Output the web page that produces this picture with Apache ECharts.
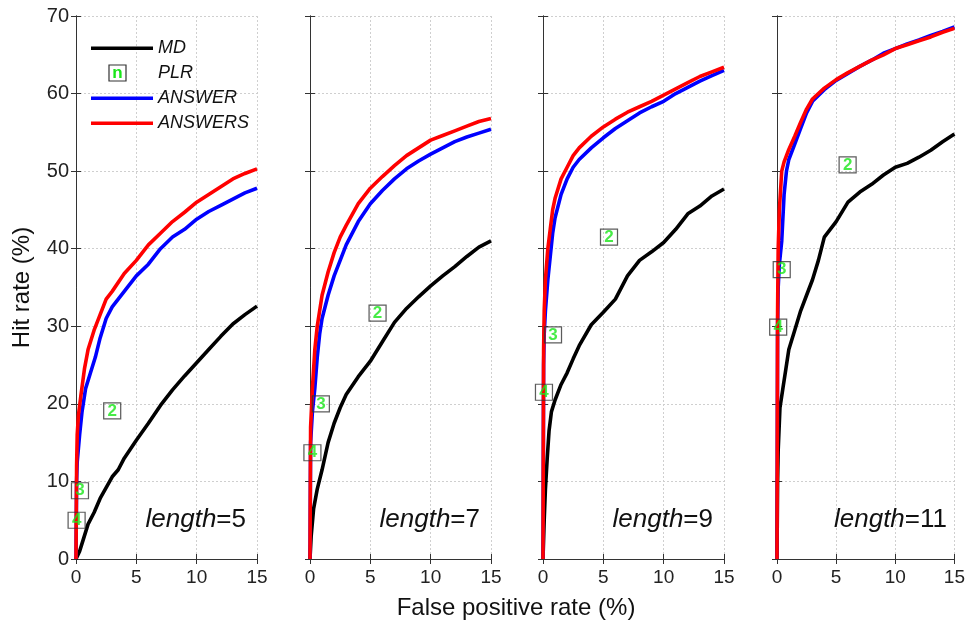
<!DOCTYPE html>
<html>
<head>
<meta charset="utf-8">
<script src="https://cdn.jsdelivr.net/npm/echarts@6/dist/echarts.min.js"></script>
<style>
html,body{margin:0;padding:0;background:#fff;}
#c{width:968px;height:628px;}
</style>
</head>
<body>
<div id="c"></div>
<script>
// ---- data ----
const lengths = [5, 7, 9, 11];
const xTicks = [0, 5, 10, 15];
const yTicks = [0, 10, 20, 30, 40, 50, 60, 70];
const legendNames = ['MD', 'PLR', 'ANSWER', 'ANSWERS'];
const xLabel = 'False positive rate (%)';
const yLabel = 'Hit rate (%)';

const md5 = [[0,0],[0.3,1],[0.6,2.5],[1,4.5],[1.5,6],[2,7.8],[2.5,9.2],[3,10.6],[3.5,11.5],[4,13],[5,15.3],[6,17.5],[7,19.8],[8,21.8],[9,23.6],[10,25.3],[11,27],[12,28.7],[13,30.3],[14,31.5],[15,32.6]];
const md7 = [[0,0],[0.1,3],[0.3,6.5],[0.6,9],[1,11.5],[1.5,15],[2,17.5],[2.5,19.5],[3,21.2],[4,23.5],[5,25.5],[6,28],[7,30.5],[8,32.3],[9,33.8],[10,35.2],[11,36.5],[12,37.7],[13,39],[14,40.2],[15,41]];
const md9 = [[0,0],[0.1,5],[0.2,9],[0.35,13],[0.5,16.5],[0.7,19],[1,20.5],[1.5,22.5],[2,24],[2.5,25.8],[3,27.5],[4,30.2],[5,31.8],[6,33.5],[7,36.5],[8,38.5],[9,39.6],[10,40.8],[11,42.5],[12,44.5],[13,45.5],[14,46.8],[15,47.7]];
const md11 = [[0,0],[0.05,10],[0.1,14],[0.25,19.5],[0.5,22],[0.75,24.5],[1,27],[1.5,29.5],[2,32],[2.5,34],[3,36],[3.5,38.5],[4,41.5],[4.5,42.5],[5,43.5],[6,46],[7,47.3],[8,48.3],[9,49.5],[10,50.5],[11,51],[12,51.8],[13,52.7],[14,53.8],[15,54.8]];

const answer5 = [[0,0],[0.05,10],[0.1,12.5],[0.3,16],[0.5,19],[0.8,22],[1.2,24],[1.6,26],[2,28.5],[2.5,31],[3,32.5],[4,34.5],[5,36.5],[6,38],[7,40],[8,41.5],[9,42.5],[10,43.8],[11,44.8],[12,45.6],[13,46.4],[14,47.2],[15,47.8]];
const answer7 = [[0,0],[0.05,15],[0.2,19],[0.4,22],[0.6,26],[0.8,29],[1,31],[1.5,34],[2,36.5],[2.5,38.5],[3,40.5],[4,43.5],[5,45.8],[6,47.5],[7,49],[8,50.3],[9,51.3],[10,52.2],[11,53],[12,53.8],[13,54.4],[14,54.9],[15,55.4]];
const answer9 = [[0,0],[0.05,25],[0.1,29],[0.2,32],[0.4,36],[0.6,39],[0.8,42],[1,44],[1.5,47],[2,49],[2.5,50.5],[3,51.5],[4,53],[5,54.3],[6,55.5],[7,56.5],[8,57.5],[9,58.3],[10,59],[11,60],[12,60.8],[13,61.6],[14,62.3],[15,63]];
const answer11 = [[0,0],[0.05,30],[0.1,35],[0.2,38],[0.4,41],[0.6,47],[0.8,50],[1,51.5],[1.5,53.5],[2,55.5],[2.5,57.5],[3,59],[4,60.5],[5,61.7],[6,62.6],[7,63.5],[8,64.3],[9,65.2],[10,65.8],[11,66.4],[12,66.9],[13,67.5],[14,68],[15,68.6]];

const answers5 = [[0,0],[0.05,12],[0.1,16],[0.2,18.5],[0.4,21],[0.7,24.5],[1,27],[1.5,29.5],[2,31.5],[2.5,33.5],[3,34.5],[4,36.8],[5,38.5],[6,40.5],[7,42],[8,43.5],[9,44.7],[10,46],[11,47],[12,48],[13,49],[14,49.7],[15,50.3]];
const answers7 = [[0,0],[0.05,17],[0.2,22],[0.4,27],[0.6,30],[0.8,32],[1,34],[1.5,37],[2,39.5],[2.5,41.5],[3,43],[4,45.8],[5,47.8],[6,49.3],[7,50.7],[8,52],[9,53],[10,54],[11,54.6],[12,55.2],[13,55.8],[14,56.4],[15,56.8]];
const answers9 = [[0,0],[0.05,27],[0.1,32],[0.2,36],[0.4,40],[0.6,42.5],[0.8,45],[1,46.5],[1.5,49],[2,50.5],[2.5,52],[3,53],[4,54.5],[5,55.7],[6,56.7],[7,57.6],[8,58.3],[9,59],[10,59.8],[11,60.6],[12,61.4],[13,62.2],[14,62.8],[15,63.4]];
const answers11 = [[0,0],[0.05,32],[0.1,40],[0.2,45],[0.4,50],[0.6,51.2],[0.8,52],[1,52.8],[1.5,54.5],[2,56.3],[2.5,58],[3,59.3],[4,60.7],[5,61.8],[6,62.7],[7,63.5],[8,64.3],[9,65],[10,65.8],[11,66.3],[12,66.8],[13,67.3],[14,67.9],[15,68.4]];

// PLR points: [fpr, hit, n]
const plr5 = [[3.0,19.1,2],[0.33,8.8,3],[0.05,5.0,4]];
const plr7 = [[5.6,31.7,2],[0.9,20.0,3],[0.2,13.7,4]];
const plr9 = [[5.47,41.5,2],[0.83,28.9,3],[0.08,21.5,4]];
const plr11 = [[5.97,50.8,2],[0.4,37.3,3],[0.1,29.9,4]];

const mdAll = [md5, md7, md9, md11];
const answerAll = [answer5, answer7, answer9, answer11];
const answersAll = [answers5, answers7, answers9, answers11];
const plrAll = [plr5, plr7, plr9, plr11];

// ---- layout ----
const FONT = 'Liberation Sans, Arial, sans-serif';
const GREEN = '#19e619';
const panelLeft = [76, 310, 543, 777];
const panelW = 181, panelTop = 16, panelH = 543;
const xMin = xTicks[0], xMax = xTicks[xTicks.length-1], xStep = xTicks[1]-xTicks[0];
const yMin = yTicks[0], yMax = yTicks[yTicks.length-1], yStep = yTicks[1]-yTicks[0];

const grids = [], xAxes = [], yAxes = [], series = [], graphics = [];
const tickStyle = {show:true, inside:true, length:5, lineStyle:{color:'#333', width:1}};
const axLine = {show:true, lineStyle:{color:'#333', width:1}};
const gridLine = {show:true, lineStyle:{color:'#cfcfcf', type:[2,2], width:1}};
const LW = 3.6;

lengths.forEach((L, i) => {
  grids.push({left: panelLeft[i], top: panelTop, width: panelW, height: panelH, containLabel:false, show:false});
  xAxes.push({type:'value', gridIndex:i, position:'bottom', min:xMin, max:xMax, interval:xStep,
    axisLine:axLine, axisTick:tickStyle, splitLine:gridLine,
    axisLabel:{show:true, fontFamily:FONT, fontSize:19, color:'#222', margin:9}});
  xAxes.push({type:'value', gridIndex:i, position:'top', min:xMin, max:xMax, interval:xStep,
    axisLine:axLine, axisTick:tickStyle, splitLine:{show:false}, axisLabel:{show:false}});
  const ly = {type:'value', gridIndex:i, position:'left', min:yMin, max:yMax, interval:yStep,
    axisLine:axLine, axisTick:tickStyle, splitLine:gridLine,
    axisLabel:{show:i===0, fontFamily:FONT, fontSize:20, color:'#222', margin:7}};
  if (i === 0) {
    ly.name = yLabel; ly.nameLocation = 'middle'; ly.nameGap = 42;
    ly.nameTextStyle = {fontFamily:FONT, fontSize:24, color:'#111'};
  }
  yAxes.push(ly);
  yAxes.push({type:'value', gridIndex:i, position:'right', min:yMin, max:yMax, interval:yStep,
    axisLine:axLine, axisTick:tickStyle, splitLine:{show:false}, axisLabel:{show:false}});

  const xi = i*2, yi = i*2;
  series.push({name:'MD', type:'line', xAxisIndex:xi, yAxisIndex:yi, data:mdAll[i],
    symbol:'none', lineStyle:{color:'#000', width:LW}, itemStyle:{color:'#000'}, z:2, animation:false});
  series.push({name:'ANSWER', type:'line', xAxisIndex:xi, yAxisIndex:yi, data:answerAll[i],
    symbol:'none', lineStyle:{color:'#0000ff', width:LW}, itemStyle:{color:'#0000ff'}, z:3, animation:false});
  series.push({name:'ANSWERS', type:'line', xAxisIndex:xi, yAxisIndex:yi, data:answersAll[i],
    symbol:'none', lineStyle:{color:'#ff0000', width:LW}, itemStyle:{color:'#ff0000'}, z:4, animation:false});
  series.push({name:'PLR', type:'scatter', xAxisIndex:xi, yAxisIndex:yi, data:plrAll[i],
    symbol:'rect', symbolSize:[17,16], z:10, animation:false,
    itemStyle:{color:'rgba(255,255,255,0)', borderColor:'#333', borderWidth:1.2},
    label:{show:true, position:'inside', formatter:p => String(p.value[2]),
      fontFamily:FONT, fontWeight:'bold', fontSize:17, color:GREEN}});

  graphics.push({type:'text', x: panelLeft[i] + panelW - 11, y: 520, z:20,
    style:{text:'{i|length}{n|=' + L + '}', align:'right', verticalAlign:'middle',
      rich:{i:{fontFamily:FONT, fontSize:26, fontStyle:'italic', fill:'#111'},
            n:{fontFamily:FONT, fontSize:26, fill:'#111'}}}});
});

graphics.push({type:'text', x: 516, y: 608, z:20,
  style:{text:xLabel, align:'center', verticalAlign:'middle', font:'24px ' + FONT, fill:'#111'}});

// PLR legend swatch (box with green "n")
graphics.push({type:'rect', z:30, shape:{x:109, y:65, width:17, height:16},
  style:{fill:'rgba(255,255,255,0)', stroke:'#333', lineWidth:1.2}});
graphics.push({type:'text', x: 117.5, y: 73.5, z:31,
  style:{text:'n', align:'center', verticalAlign:'middle', font:'bold 17px ' + FONT, fill:GREEN}});

const lineIcon = 'path://M0,0M62,17M0,7H62V10.6H0Z';

const chart = echarts.init(document.getElementById('c'), null, {renderer:'canvas'});
chart.setOption({
  backgroundColor:'#fff',
  animation:false,
  grid: grids,
  xAxis: xAxes,
  yAxis: yAxes,
  legend: {
    orient:'vertical', left:86, top:34, itemWidth:62, itemHeight:17, itemGap:7,
    symbolKeepAspect:false,
    data: legendNames.map(n => n === 'PLR'
      ? {name:n, icon:'rect', itemStyle:{color:'rgba(0,0,0,0)', borderColor:'rgba(0,0,0,0)', borderWidth:0}}
      : {name:n, icon:lineIcon}),
    textStyle:{fontFamily:FONT, fontSize:18, fontStyle:'italic', color:'#111'},
    selectedMode:false
  },
  series: series,
  graphic: graphics
});
</script>
</body>
</html>
